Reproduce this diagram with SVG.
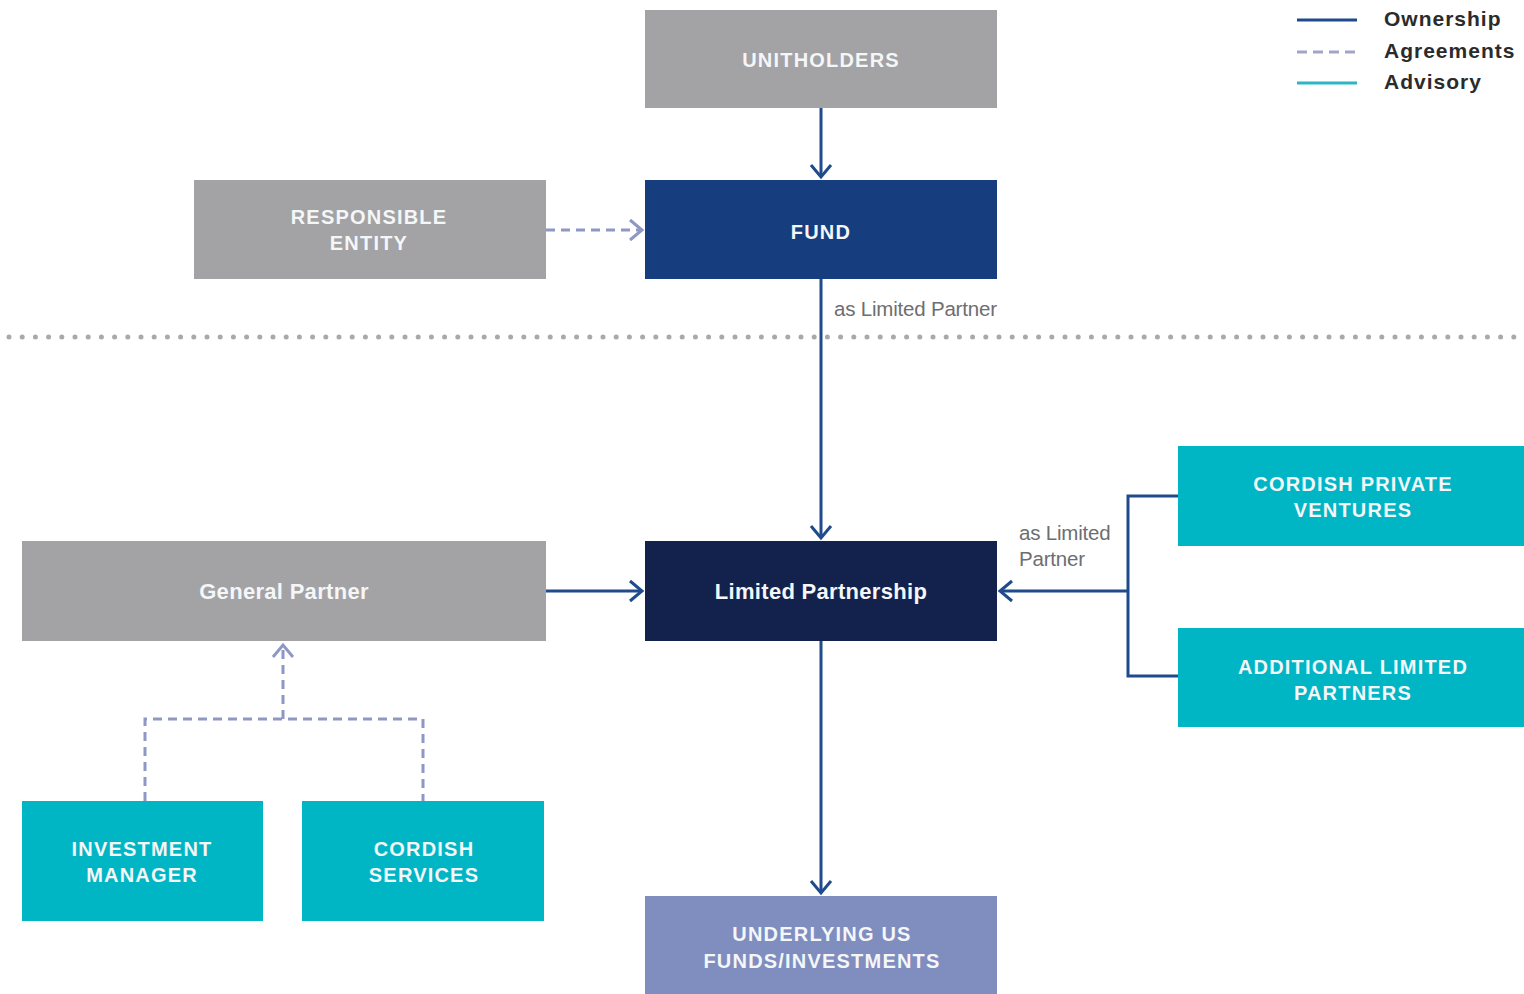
<svg xmlns="http://www.w3.org/2000/svg" width="1524" height="994" viewBox="0 0 1524 994">
<style>
.gray{fill:#a3a2a5}
.teal{fill:#00b5c4}
.bt{font-family:"Liberation Sans",Arial,sans-serif;font-weight:bold;font-size:20px;fill:#f4f6f8;text-anchor:middle;letter-spacing:1.2px}
.bm{font-family:"Liberation Sans",Arial,sans-serif;font-weight:bold;font-size:22px;fill:#f4f6f8;text-anchor:middle;letter-spacing:0.3px}
.own{stroke:#1f4b8c;stroke-width:3;fill:none}
.agr{stroke:#8f98c4;stroke-width:3;fill:none;stroke-dasharray:9 6}
.lbl{font-family:"Liberation Sans",Arial,sans-serif;font-size:20.5px;fill:#6d6e71;letter-spacing:-0.2px}
.leg{font-family:"Liberation Sans",Arial,sans-serif;font-weight:bold;font-size:21px;fill:#2b2b2b;letter-spacing:1px}
</style>
<defs>
<marker id="aOwn" markerUnits="userSpaceOnUse" markerWidth="30" markerHeight="30" viewBox="-15 -15 30 30" refX="0" refY="0" orient="auto">
<path d="M-12,-10 L0,0 L-12,10" fill="none" stroke="#1f4b8c" stroke-width="3"/>
</marker>
<marker id="aAgr" markerUnits="userSpaceOnUse" markerWidth="30" markerHeight="30" viewBox="-15 -15 30 30" refX="0" refY="0" orient="auto">
<path d="M-12,-10 L0,0 L-12,10" fill="none" stroke="#8f98c4" stroke-width="3"/>
</marker>
</defs>
<rect width="1524" height="994" fill="#ffffff"/>

<g id="legend">
<line x1="1297" y1="20" x2="1357" y2="20" stroke="#1f4b8c" stroke-width="3"/>
<line x1="1297" y1="52" x2="1357" y2="52" stroke="#a0a6c8" stroke-width="3" stroke-dasharray="10 6"/>
<line x1="1297" y1="83" x2="1357" y2="83" stroke="#2bb5c6" stroke-width="3"/>
<text class="leg" x="1384" y="26">Ownership</text>
<text class="leg" x="1384" y="58">Agreements</text>
<text class="leg" x="1384" y="89">Advisory</text>
</g>

<g id="divider">
<line x1="9" y1="337" x2="1524" y2="337" stroke="#a8a9ab" stroke-width="5" stroke-linecap="round" stroke-dasharray="0 13.2"/>
</g>

<g id="connectors">
<line class="own" x1="821" y1="108" x2="821" y2="177" marker-end="url(#aOwn)"/>
<line class="agr" x1="546" y1="230" x2="642" y2="230" marker-end="url(#aAgr)"/>
<line class="own" x1="821" y1="279" x2="821" y2="538" marker-end="url(#aOwn)"/>
<line class="own" x1="546" y1="591" x2="642" y2="591" marker-end="url(#aOwn)"/>
<polyline class="own" points="1178,496 1128,496 1128,676 1178,676"/>
<line class="own" x1="1128" y1="591" x2="1000" y2="591" marker-end="url(#aOwn)"/>
<line class="own" x1="821" y1="641" x2="821" y2="893" marker-end="url(#aOwn)"/>
<polyline class="agr" points="145,801 145,719 423,719 423,801"/>
<line class="agr" x1="283" y1="719" x2="283" y2="645" marker-end="url(#aAgr)"/>
<text class="lbl" x="834" y="316">as Limited Partner</text>
<text class="lbl" x="1019" y="540">as Limited</text>
<text class="lbl" x="1019" y="566">Partner</text>
</g>

<g id="unitholders">
<rect class="gray" x="645" y="10" width="352" height="98"/>
<text class="bt" x="821" y="67">UNITHOLDERS</text>
</g>
<g id="responsible-entity">
<rect class="gray" x="194" y="180" width="352" height="99"/>
<text class="bt" x="369" y="224">RESPONSIBLE</text>
<text class="bt" x="369" y="250">ENTITY</text>
</g>
<g id="fund">
<rect x="645" y="180" width="352" height="99" fill="#163d7d"/>
<text class="bt" x="821" y="239">FUND</text>
</g>
<g id="general-partner">
<rect class="gray" x="22" y="541" width="524" height="100"/>
<text class="bm" x="284" y="599">General Partner</text>
</g>
<g id="limited-partnership">
<rect x="645" y="541" width="352" height="100" fill="#13224c"/>
<text class="bm" x="821" y="599">Limited Partnership</text>
</g>
<g id="cordish-private-ventures">
<rect class="teal" x="1178" y="446" width="346" height="100"/>
<text class="bt" x="1353" y="491">CORDISH PRIVATE</text>
<text class="bt" x="1353" y="517">VENTURES</text>
</g>
<g id="additional-limited-partners">
<rect class="teal" x="1178" y="628" width="346" height="99"/>
<text class="bt" x="1353" y="674">ADDITIONAL LIMITED</text>
<text class="bt" x="1353" y="700">PARTNERS</text>
</g>
<g id="investment-manager">
<rect class="teal" x="22" y="801" width="241" height="120"/>
<text class="bt" x="142" y="856">INVESTMENT</text>
<text class="bt" x="142" y="882">MANAGER</text>
</g>
<g id="cordish-services">
<rect class="teal" x="302" y="801" width="242" height="120"/>
<text class="bt" x="424" y="856">CORDISH</text>
<text class="bt" x="424" y="882">SERVICES</text>
</g>
<g id="underlying">
<rect x="645" y="896" width="352" height="98" fill="#7f8dbf"/>
<text class="bt" x="822" y="941">UNDERLYING US</text>
<text class="bt" x="822" y="968">FUNDS/INVESTMENTS</text>
</g>
</svg>
